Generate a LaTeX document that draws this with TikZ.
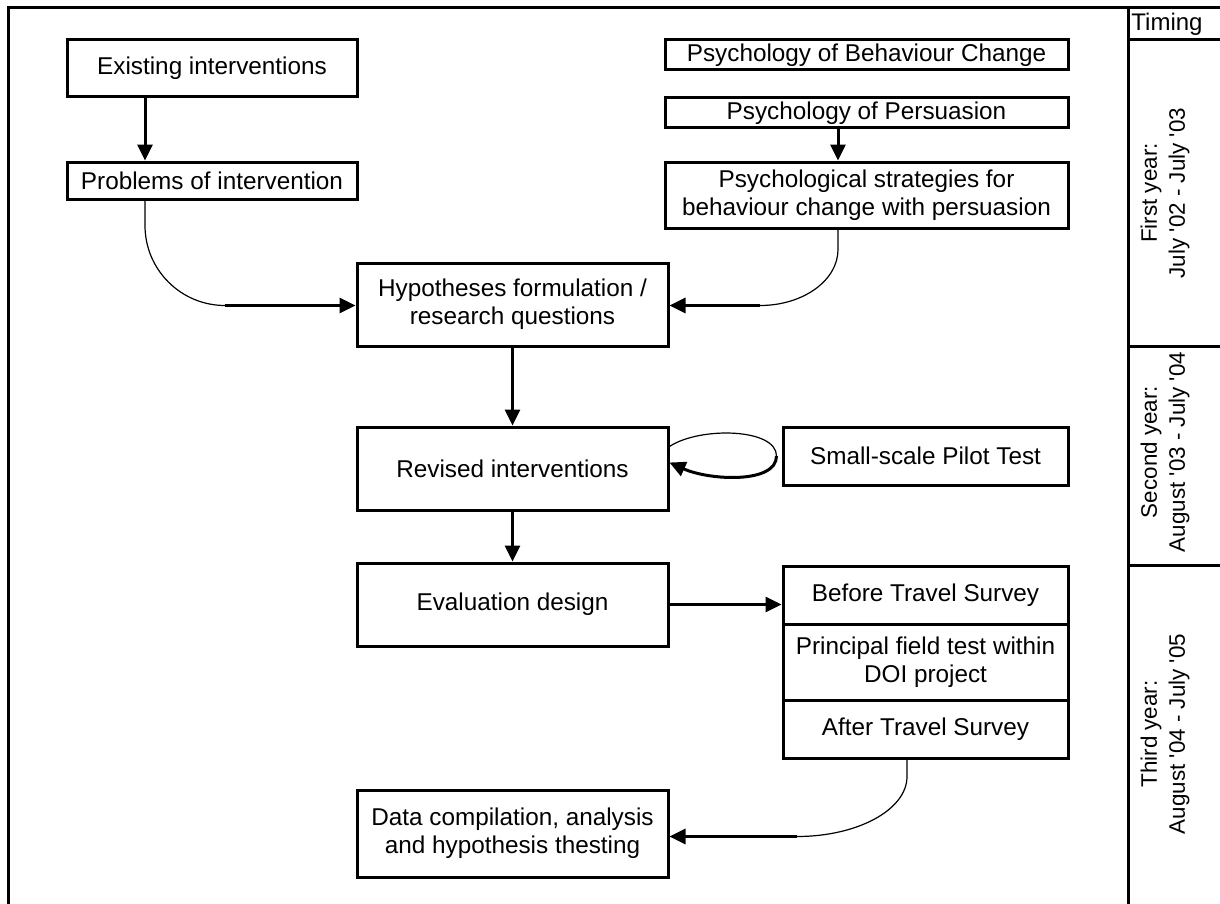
\documentclass[tikz,border=0pt]{standalone}
\usepackage{fontspec}
\setmainfont{Liberation Sans}
\usetikzlibrary{arrows.meta}

\newcommand{\q}{\textquotesingle}

\begin{document}
\begin{tikzpicture}[x=0.5pt, y=-0.5pt,
        box/.style={draw, line width=1.5pt, align=center, inner sep=0pt,
            font=\fontsize{12.15}{14}\selectfont},
        wide/.style={minimum width=155.5pt, minimum height=41.5pt},
        arr/.style={line width=1.5pt, -{Triangle[length=8pt,width=7.5pt]}},
        link/.style={line width=0.6pt},
        frame/.style={line width=1.5pt},
        timetext/.style={align=center, inner sep=0pt, font=\fontsize{11.2}{14}\selectfont}]
        \useasboundingbox (0,0) rectangle (1220,904);

        % frame and timing column
        \draw[frame] (8,904) -- (8,8) -- (1220,8);
        \draw[frame] (1128,8) -- (1128,904);
        \draw[frame] (1128,40) -- (1220,40);
        \draw[frame] (1128,346) -- (1220,346);
        \draw[frame] (1128,565) -- (1220,565);
        \node[timetext, anchor=west, font=\fontsize{12}{14}\selectfont] (timing) at (1131,24) {Timing};
        \node[timetext, rotate=90] (year1) at (1165,193) {First year:\\July \q02 - July \q03};
        \node[timetext, rotate=90] (year2) at (1165,452) {Second year:\\August \q03 - July \q04};
        \node[timetext, rotate=90] (year3) at (1165,734) {Third year:\\August \q04 - July \q05};

        % boxes
        \node[box, minimum width=145pt, minimum height=28.5pt] (exist) at (212,68.5) {Existing interventions};
        \node[box, minimum width=145pt, minimum height=18.5pt] (probl) at (212,180.5) {Problems of intervention};
        \node[box, minimum width=201.5pt, minimum height=15pt] (behav) at (866.5,55) {Psychology of Behaviour Change};
        \node[box, minimum width=201.5pt, minimum height=15pt] (persu) at (866.5,113) {Psychology of Persuasion};
        \node[box, minimum width=201.5pt, minimum height=33pt] (strat) at (866.5,195) {Psychological strategies for\\behaviour change with persuasion};
        \node[box, wide] (hypo) at (512.5,304.5) {Hypotheses formulation /\\research questions};
        \node[box, wide] (revis) at (512.5,468.5) {Revised interventions};
        \node[box, minimum width=142.5pt, minimum height=29pt] (pilot) at (925.5,456) {Small-scale Pilot Test};
        \node[box, wide] (evalu) at (512.5,604.5) {Evaluation design};
        \node[box, minimum width=142.5pt, minimum height=29pt] (before) at (925.5,595) {Before Travel Survey};
        \node[box, minimum width=142.5pt, minimum height=38pt] (princ) at (925.5,662) {Principal field test within\\DOI project};
        \node[box, minimum width=142.5pt, minimum height=29pt] (after) at (925.5,729) {After Travel Survey};
        \node[box, minimum width=155.5pt, minimum height=43.5pt] (data) at (512.5,833.5) {Data compilation, analysis\\and hypothesis thesting};

        % straight arrows
        \draw[arr] ([xshift=-33.5pt]exist.south) -- ([xshift=-33.5pt]probl.north);
        \draw[arr] ([xshift=-14.25pt]persu.south) -- ([xshift=-14.25pt]strat.north);
        \draw[arr] (hypo.south) -- (revis.north);
        \draw[arr] (revis.south) -- (evalu.north);
        \draw[arr] (evalu.east) -- (evalu.east -| before.west);

        % curved links into hypotheses
        \draw[link] ([xshift=-33.5pt]probl.south) -- ++(0,-12.5pt)
            arc[start angle=180, end angle=270, radius=40pt] coordinate (k1);
        \draw[arr] (k1) -- (k1 -| hypo.west);
        \draw[link] ([xshift=-14.25pt]strat.south) -- ++(0,-10pt)
            arc[start angle=0, end angle=-90, x radius=39pt, y radius=28pt] coordinate (k2);
        \draw[arr] (k2) -- (k2 -| hypo.east);

        % pilot loop
        \draw[link] ([yshift=11pt]revis.east) .. controls +(15pt,10pt) and +(0pt,14pt) .. ([xshift=-2.5pt]pilot.west);
        \draw[arr] ([xshift=-2.5pt]pilot.west) .. controls +(0pt,-14pt) and +(20pt,-9pt) .. ([yshift=3pt]revis.east);

        % after survey to data
        \draw[link] ([xshift=-9.25pt]after.south) -- ++(0,-8.5pt)
            arc[start angle=0, end angle=-90, x radius=55pt, y radius=30pt] coordinate (k3);
        \draw[arr] (k3) -- (k3 -| data.east);

        \end{tikzpicture}
\end{document}
